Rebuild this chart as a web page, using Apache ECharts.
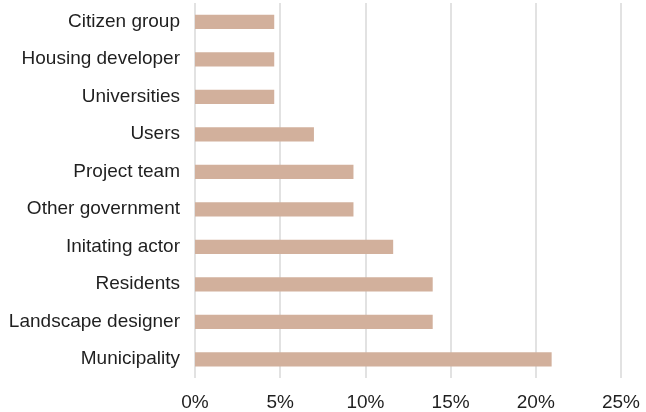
<!DOCTYPE html>
<html>
<head>
<meta charset="utf-8">
<script src="https://cdn.jsdelivr.net/npm/echarts@6/dist/echarts.min.js"></script>
<style>
  html, body { margin: 0; padding: 0; background: #ffffff; }
  #chart { width: 646px; height: 412px; }
</style>
</head>
<body>
<div id="chart"></div>
<script>
// Actors involved, listed top to bottom
const categories = [
  'Citizen group',
  'Housing developer',
  'Universities',
  'Users',
  'Project team',
  'Other government',
  'Initating actor',
  'Residents',
  'Landscape designer',
  'Municipality'
];
// Share of mentions (%)
const shares = [4.65, 4.65, 4.65, 6.98, 9.30, 9.30, 11.63, 13.95, 13.95, 20.93];
// Value axis ticks (%)
const xTicks = [0, 5, 10, 15, 20, 25];

const chart = echarts.init(document.getElementById('chart'), null, { renderer: 'canvas' });

chart.setOption({
  animation: false,
  backgroundColor: '#ffffff',
  textStyle: { fontFamily: 'Liberation Sans, Arial, sans-serif' },
  grid: { left: 195, right: 25, top: 3, bottom: 32, containLabel: false },
  xAxis: {
    type: 'value',
    min: xTicks[0],
    max: xTicks[xTicks.length - 1],
    interval: xTicks[1] - xTicks[0],
    axisLine: { show: false },
    axisTick: { show: false },
    splitLine: { show: true, lineStyle: { color: '#d9d9d9', width: 1.5 } },
    axisLabel: {
      formatter: v => v + '%',
      color: '#1f1f1f',
      fontSize: 19,
      margin: 15
    }
  },
  yAxis: {
    type: 'category',
    data: categories,
    inverse: true,
    axisLine: { show: false },
    axisTick: { show: false },
    axisLabel: {
      color: '#1f1f1f',
      fontSize: 19,
      margin: 15
    }
  },
  series: [{
    type: 'bar',
    data: shares,
    barCategoryGap: '62%',
    itemStyle: { color: '#d2b09c' }
  }]
});
</script>
</body>
</html>
